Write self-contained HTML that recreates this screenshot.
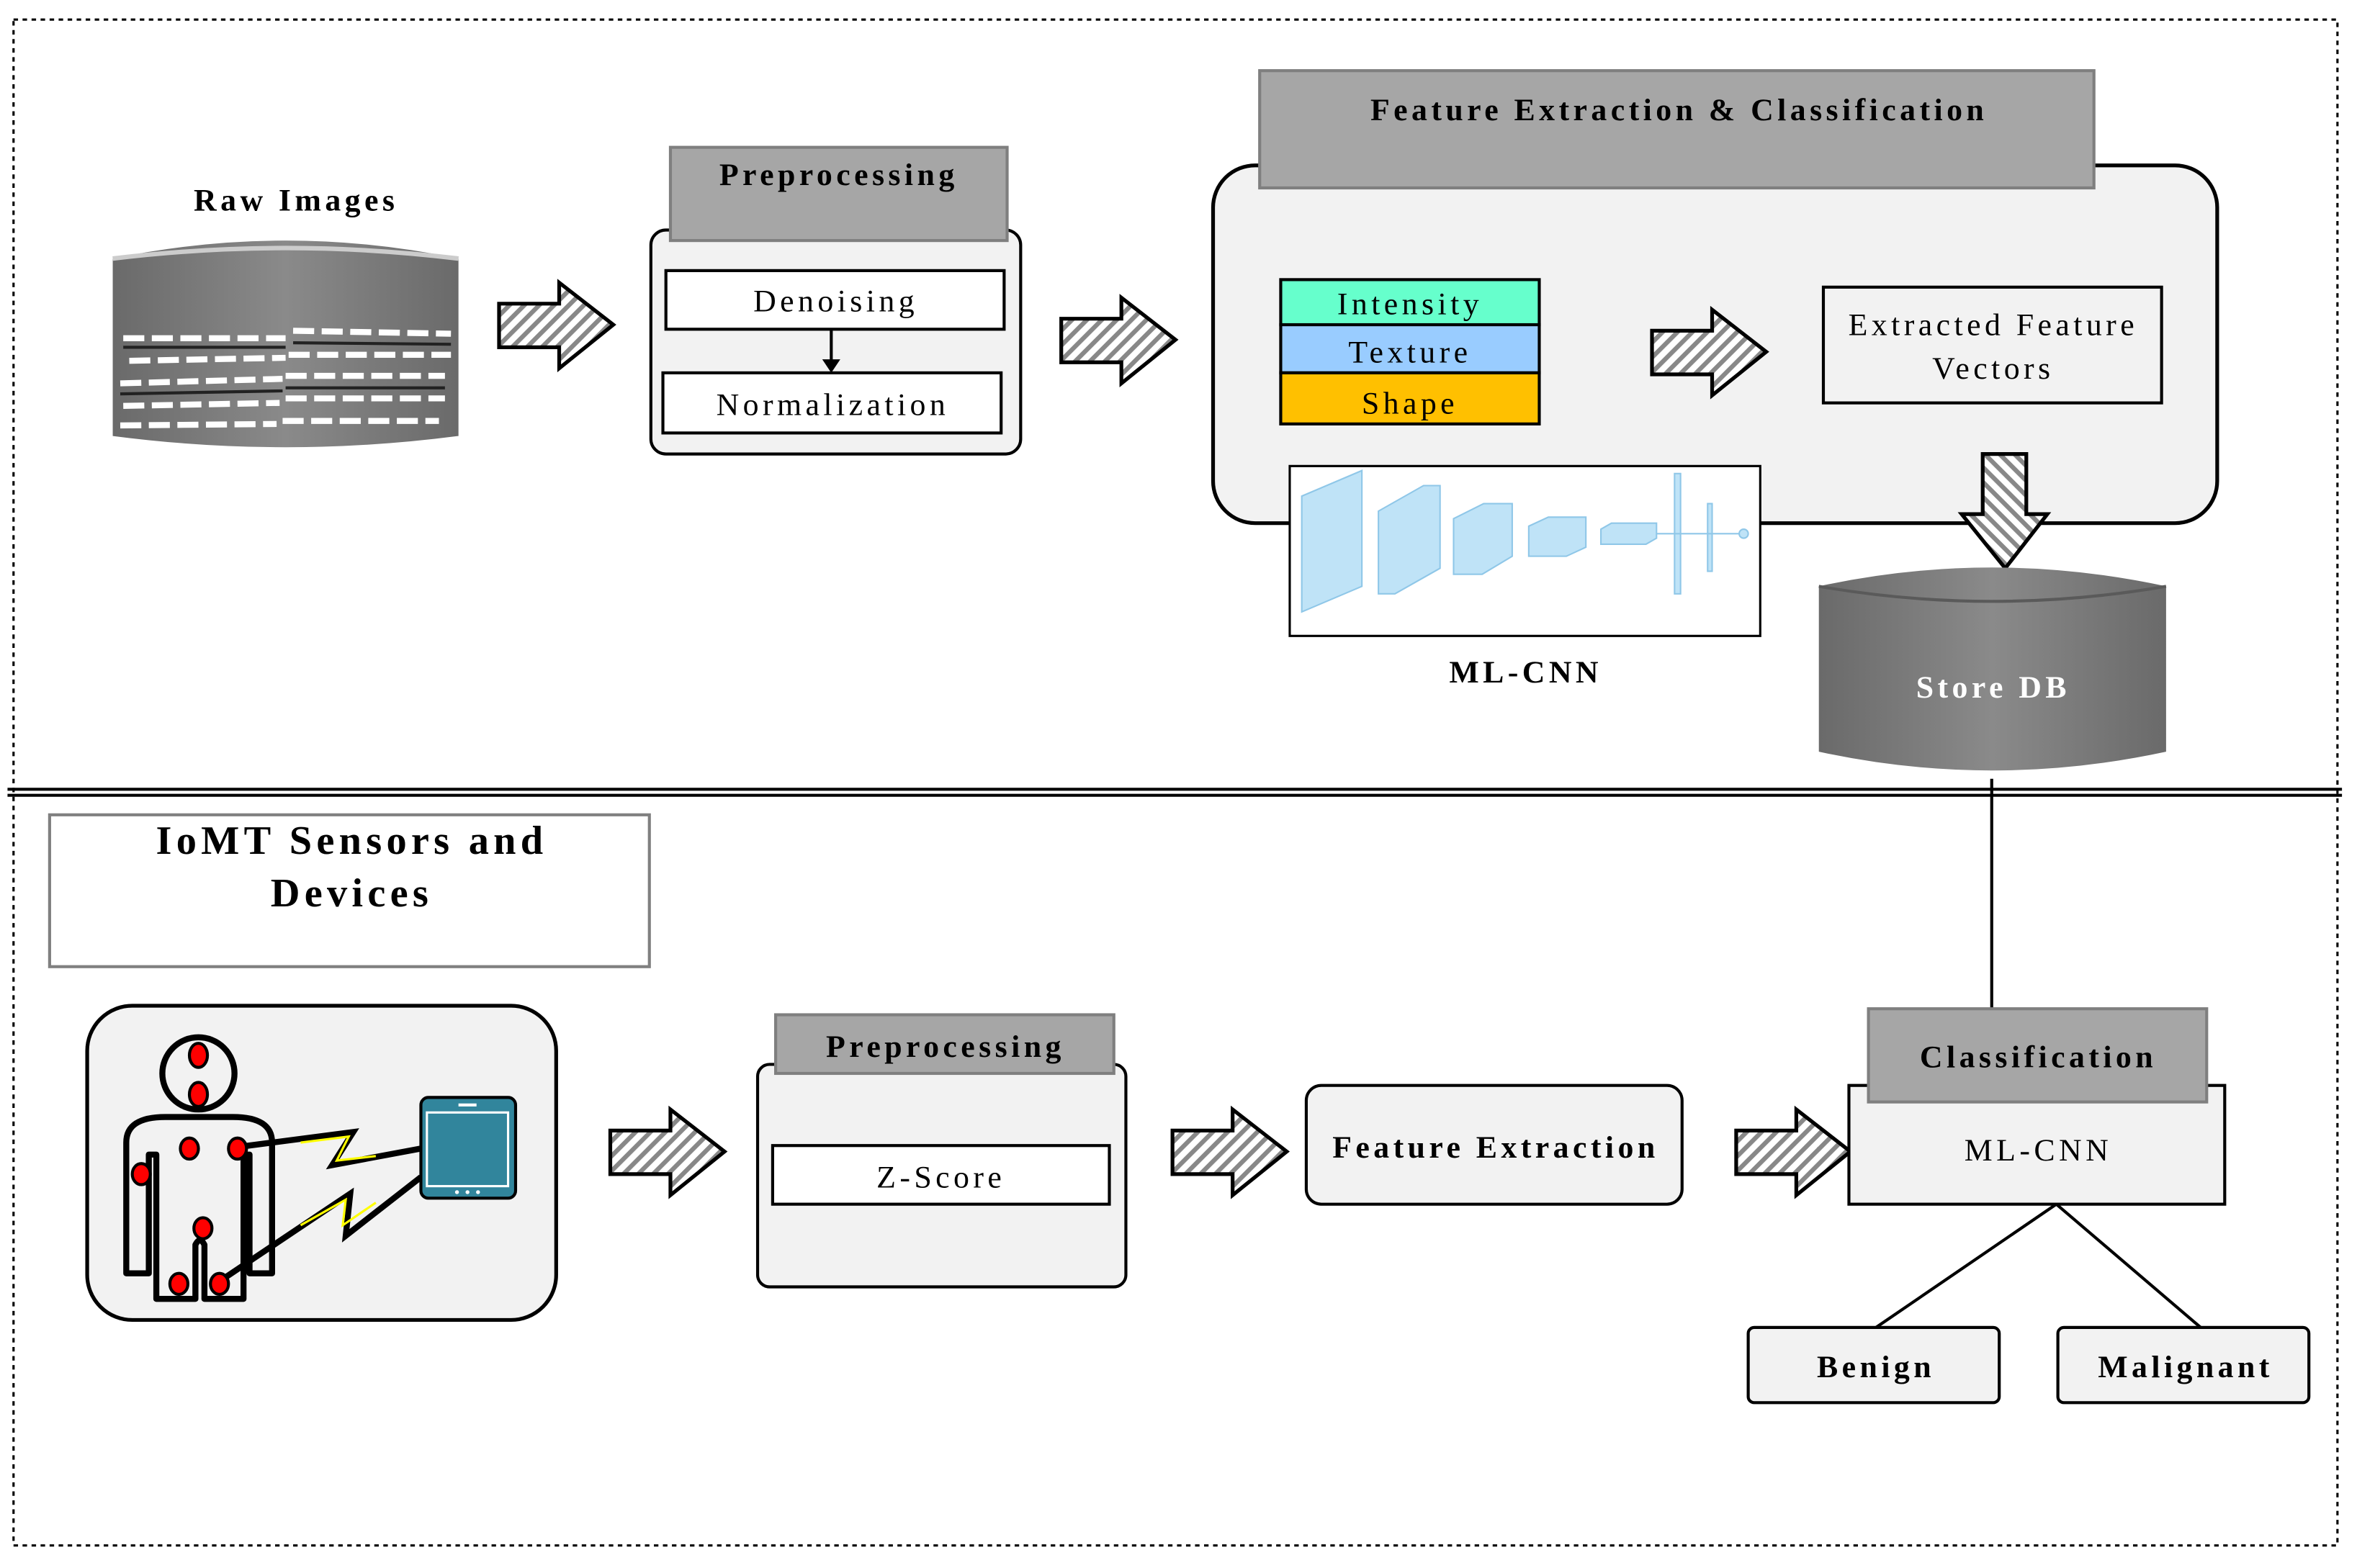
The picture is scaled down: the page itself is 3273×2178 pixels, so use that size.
<!DOCTYPE html>
<html><head><meta charset="utf-8"><style>
html,body{margin:0;padding:0;background:#fff;}
svg{display:block;}
text{font-family:"Liberation Serif",serif;letter-spacing:2.6px;}
.b{font-weight:bold;}
</style></head><body>
<svg width="3273" height="2178" viewBox="0 0 1568 1043" preserveAspectRatio="none" xmlns="http://www.w3.org/2000/svg">
<defs>
<pattern id="h" width="7" height="7" patternUnits="userSpaceOnUse" patternTransform="rotate(45)">
<rect width="7" height="7" fill="#fff"/><rect width="3" height="7" fill="#888"/></pattern>
<g id="ar"><polygon points="0,14 40,14 40,0 76,28 40,57 40,43 0,43" fill="url(#h)" stroke="#000" stroke-width="2.5"/></g>
<linearGradient id="cyl" x1="0" x2="1"><stop offset="0" stop-color="#6a6a6a"/><stop offset="0.5" stop-color="#8a8a8a"/><stop offset="1" stop-color="#6a6a6a"/></linearGradient>
</defs>
<rect x="9" y="13" width="1546" height="1015" fill="none" stroke="#000" stroke-width="1.5" stroke-dasharray="3,3"/>
<line x1="5" y1="525" x2="1558" y2="525" stroke="#000" stroke-width="2"/>
<line x1="5" y1="529" x2="1558" y2="529" stroke="#000" stroke-width="2"/>

<!-- Raw images -->
<text x="197" y="140" class="b" font-size="21" text-anchor="middle">Raw Images</text>
<path d="M75,172 Q190,148 305,172 L305,290 Q190,305 75,290 Z" fill="url(#cyl)"/>
<path d="M75,172 Q190,158 305,172" fill="none" stroke="#ccc" stroke-width="3"/>
<g stroke="#fff" stroke-width="4" stroke-dasharray="14,5">
<line x1="82" y1="225" x2="190" y2="225"/><line x1="86" y1="240" x2="190" y2="238"/><line x1="80" y1="255" x2="188" y2="252"/><line x1="82" y1="270" x2="186" y2="268"/><line x1="80" y1="283" x2="184" y2="282"/>
<line x1="195" y1="220" x2="300" y2="222"/><line x1="192" y1="236" x2="300" y2="236"/><line x1="190" y1="250" x2="296" y2="250"/><line x1="190" y1="265" x2="296" y2="265"/><line x1="188" y1="280" x2="292" y2="280"/>
</g>
<g stroke="#222" stroke-width="2">
<line x1="82" y1="231" x2="190" y2="231"/><line x1="80" y1="262" x2="188" y2="260"/><line x1="195" y1="228" x2="300" y2="229"/><line x1="190" y1="258" x2="296" y2="258"/>
</g>
<use href="#ar" x="332" y="188"/>

<!-- Preprocessing top -->
<rect x="433" y="153" width="246" height="149" rx="10" fill="#f2f2f2" stroke="#000" stroke-width="2"/>
<rect x="446" y="98" width="224" height="62" fill="#a6a6a6" stroke="#7f7f7f" stroke-width="2"/>
<text x="558" y="123" class="b" font-size="21" text-anchor="middle">Preprocessing</text>
<rect x="443" y="180" width="225" height="39" fill="#fff" stroke="#000" stroke-width="2"/>
<text x="556" y="207" font-size="21" text-anchor="middle">Denoising</text>
<rect x="441" y="248" width="225" height="40" fill="#fff" stroke="#000" stroke-width="2"/>
<text x="554" y="276" font-size="21" text-anchor="middle">Normalization</text>
<line x1="553" y1="219" x2="553" y2="241" stroke="#000" stroke-width="2"/>
<polygon points="547,239 559,239 553,248" fill="#000"/>
<use href="#ar" x="706" y="198"/>

<!-- Feature extraction & classification -->
<rect x="807" y="110" width="668" height="238" rx="28" fill="#f2f2f2" stroke="#000" stroke-width="2.5"/>
<rect x="838" y="47" width="555" height="78" fill="#a6a6a6" stroke="#7f7f7f" stroke-width="2"/>
<text x="1117" y="80" class="b" font-size="21" text-anchor="middle">Feature Extraction &amp; Classification</text>
<rect x="852" y="186" width="172" height="30" fill="#66ffcc" stroke="#000" stroke-width="2"/>
<rect x="852" y="216" width="172" height="32" fill="#99ccff" stroke="#000" stroke-width="2"/>
<rect x="852" y="248" width="172" height="34" fill="#ffc000" stroke="#000" stroke-width="2"/>
<text x="938" y="209" font-size="21" text-anchor="middle">Intensity</text>
<text x="938" y="241" font-size="21" text-anchor="middle">Texture</text>
<text x="938" y="275" font-size="21" text-anchor="middle">Shape</text>
<use href="#ar" x="1099" y="206"/>
<rect x="1213" y="191" width="225" height="77" fill="#f2f2f2" stroke="#000" stroke-width="2"/>
<text x="1326" y="223" font-size="21" text-anchor="middle">Extracted Feature</text>
<text x="1326" y="252" font-size="21" text-anchor="middle">Vectors</text>
<use href="#ar" x="0" y="0" transform="translate(1362,302) rotate(90)"/>

<!-- CNN image -->
<rect x="858" y="310" width="313" height="113" fill="#fff" stroke="#000" stroke-width="1.5"/>
<g fill="#bfe3f7" stroke="#8fc7e8" stroke-width="1">
<polygon points="866,330 906,313 906,390 866,407"/>
<polygon points="917,340 947,323 958,323 958,378 928,395 917,395"/>
<polygon points="967,345 987,335 1006,335 1006,370 986,382 967,382"/>
<polygon points="1017,350 1030,344 1055,344 1055,364 1042,370 1017,370"/>
<polygon points="1065,352 1072,348 1102,348 1102,358 1095,362 1065,362"/>
<rect x="1114" y="315" width="4" height="80"/>
<rect x="1136" y="335" width="3" height="45"/>
<line x1="1102" y1="355" x2="1160" y2="355"/>
<circle cx="1160" cy="355" r="3"/>
</g>
<text x="1015" y="454" class="b" font-size="21" text-anchor="middle">ML-CNN</text>

<!-- Store DB -->
<path d="M1210,390 Q1325,365 1441,390 L1441,500 Q1325,525 1210,500 Z" fill="url(#cyl)"/>
<path d="M1210,390 Q1325,410 1441,390" fill="none" stroke="#5a5a5a" stroke-width="2"/>
<text x="1326" y="464" class="b" font-size="21" fill="#fff" text-anchor="middle">Store DB</text>
<line x1="1325" y1="518" x2="1325" y2="671" stroke="#000" stroke-width="2"/>

<!-- IoMT -->
<rect x="33" y="542" width="399" height="101" fill="#fff" stroke="#808080" stroke-width="2"/>
<text x="234" y="568" class="b" font-size="27" text-anchor="middle" style="letter-spacing:3px">IoMT Sensors and</text>
<text x="234" y="603" class="b" font-size="27" text-anchor="middle" style="letter-spacing:3px">Devices</text>

<rect x="58" y="669" width="312" height="209" rx="30" fill="#f2f2f2" stroke="#000" stroke-width="2.5"/>
<g stroke="#000" stroke-width="4" fill="none" stroke-linejoin="round">
<circle cx="132" cy="714" r="24"/>
<path d="M99,847 L84,847 L84,760 Q84,743 110,743 L155,743 Q181,743 181,760 L181,847 L166,847 L166,768 L162,768 L162,864 L136,864 L136,828 Q133,822 130,828 L130,864 L104,864 L104,768 L99,768 Z"/>
</g>
<!-- bolts -->
<polyline points="158,763 235,753 221,775 280,764" fill="none" stroke="#000" stroke-width="4" stroke-linejoin="miter"/>
<polyline points="200,760 232,756 224,772 250,769" fill="none" stroke="#ff0" stroke-width="1.5"/>
<polyline points="145,853 233,794 230,822 280,783" fill="none" stroke="#000" stroke-width="4" stroke-linejoin="miter"/>
<polyline points="200,815 230,798 228,815 250,800" fill="none" stroke="#ff0" stroke-width="1.5"/>
<g fill="#f00" stroke="#000" stroke-width="2">
<ellipse cx="132" cy="702" rx="6" ry="8"/><ellipse cx="132" cy="728" rx="6" ry="8"/>
<ellipse cx="126" cy="764" rx="6" ry="7"/><ellipse cx="158" cy="764" rx="6" ry="7"/>
<ellipse cx="94" cy="781" rx="6" ry="7"/><ellipse cx="135" cy="817" rx="6" ry="7"/>
<ellipse cx="119" cy="854" rx="6" ry="7"/><ellipse cx="146" cy="854" rx="6" ry="7"/>
</g>
<rect x="280" y="730" width="63" height="67" rx="5" fill="#31859c" stroke="#000" stroke-width="2"/>
<rect x="284" y="740" width="54" height="49" fill="#31859c" stroke="#fff" stroke-width="1.5"/>
<rect x="305" y="734" width="12" height="2" fill="#fff"/>
<circle cx="304" cy="793" r="1.3" fill="#fff"/><circle cx="311" cy="793" r="1.3" fill="#fff"/><circle cx="318" cy="793" r="1.3" fill="#fff"/>

<use href="#ar" x="406" y="738"/>
<!-- Preprocessing bottom -->
<rect x="504" y="708" width="245" height="148" rx="8" fill="#f2f2f2" stroke="#000" stroke-width="2"/>
<rect x="516" y="675" width="225" height="39" fill="#a6a6a6" stroke="#7f7f7f" stroke-width="2"/>
<text x="629" y="703" class="b" font-size="21" text-anchor="middle">Preprocessing</text>
<rect x="514" y="762" width="224" height="39" fill="#fff" stroke="#000" stroke-width="2"/>
<text x="626" y="790" font-size="21" text-anchor="middle">Z-Score</text>
<use href="#ar" x="780" y="738"/>
<rect x="869" y="722" width="250" height="79" rx="10" fill="#f2f2f2" stroke="#000" stroke-width="2"/>
<text x="995" y="770" class="b" font-size="21" text-anchor="middle">Feature Extraction</text>
<use href="#ar" x="1155" y="738"/>
<rect x="1230" y="722" width="250" height="79" fill="#f2f2f2" stroke="#000" stroke-width="2"/>
<rect x="1243" y="671" width="225" height="62" fill="#a6a6a6" stroke="#7f7f7f" stroke-width="2"/>
<text x="1356" y="710" class="b" font-size="21" text-anchor="middle">Classification</text>
<text x="1356" y="772" font-size="21" text-anchor="middle">ML-CNN</text>
<line x1="1368" y1="801" x2="1248" y2="883" stroke="#000" stroke-width="2"/>
<line x1="1368" y1="801" x2="1464" y2="883" stroke="#000" stroke-width="2"/>
<rect x="1163" y="883" width="167" height="50" rx="4" fill="#f2f2f2" stroke="#000" stroke-width="2"/>
<text x="1248" y="916" class="b" font-size="21" text-anchor="middle">Benign</text>
<rect x="1369" y="883" width="167" height="50" rx="4" fill="#f2f2f2" stroke="#000" stroke-width="2"/>
<text x="1454" y="916" class="b" font-size="21" text-anchor="middle">Malignant</text>
</svg>
</body></html>
